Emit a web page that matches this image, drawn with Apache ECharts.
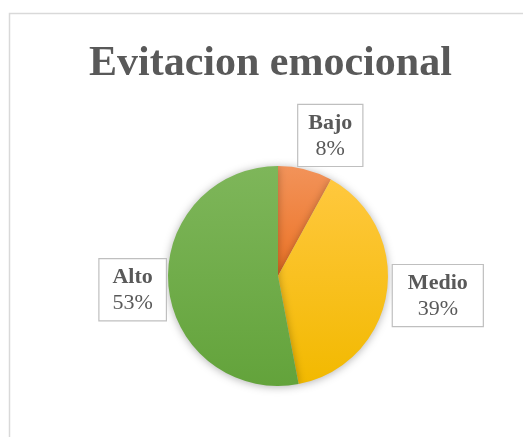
<!DOCTYPE html>
<html>
<head>
<meta charset="utf-8">
<script src="https://cdn.jsdelivr.net/npm/echarts@6/dist/echarts.min.js"></script>
<style>
html,body{margin:0;padding:0;background:#fff;}
#chart{width:523px;height:437px;}
</style>
</head>
<body>
<div id="chart"></div>
<script>
const categories = ['Bajo', 'Medio', 'Alto'];
const values = [8, 39, 53];
const colorsTop = ['#F2935A', '#FFC83E', '#7EB65A'];
const colorsBottom = ['#EC7224', '#F2B900', '#63A33B'];
// label placement: distance from pie centre and angular tweak (degrees)
const labelDist = [150, 161, 146];
const labelAngleShift = [6, -2, 0];
const labelPadX = [10, 15, 13];

const FONT = '"Liberation Serif", "Times New Roman", serif';
const cx = 278, cy = 276, R = 110;

const total = values.reduce((a, b) => a + b, 0);
const midAngles = [];
let acc = 0;
values.forEach(v => { midAngles.push((acc + v / 2) / total * 360); acc += v; });

const chart = echarts.init(document.getElementById('chart'));
chart.setOption({
  backgroundColor: '#fff',
  animation: false,
  graphic: [{
    type: 'rect',
    shape: { x: 9.5, y: 13.5, width: 600, height: 600 },
    style: { fill: 'none', stroke: '#d9d9d9', lineWidth: 1.5 },
    silent: true
  }],
  title: {
    text: 'Evitacion emocional',
    left: 84,
    top: 38,
    textStyle: { fontFamily: FONT, fontWeight: 'bold', fontSize: 42, color: '#595959' }
  },
  series: [{
    type: 'pie',
    center: [cx, cy],
    radius: [0, R],
    startAngle: 90,
    clockwise: true,
    data: categories.map((c, i) => ({
      name: c,
      value: values[i],
      itemStyle: {
        color: new echarts.graphic.LinearGradient(0, 0, 0, 1, [
          { offset: 0, color: colorsTop[i] },
          { offset: 1, color: colorsBottom[i] }
        ])
      },
      label: { padding: [5, labelPadX[i], 4, labelPadX[i]] }
    })),
    itemStyle: { shadowBlur: 8, shadowColor: 'rgba(0,0,0,0.3)', shadowOffsetY: 1 },
    labelLine: { show: false },
    label: {
      show: true,
      position: 'inside',
      overflow: 'none',
      formatter: p => '{b|' + p.name + '}\n{p|' + p.value + '%}',
      backgroundColor: '#fff',
      borderColor: '#bfbfbf',
      borderWidth: 1.2,
      rich: {
        b: { fontFamily: FONT, fontWeight: 'bold', fontSize: 22, color: '#595959', lineHeight: 26, align: 'center' },
        p: { fontFamily: FONT, fontSize: 22, color: '#595959', lineHeight: 26, align: 'center' }
      }
    },
    labelLayout: function (params) {
      const i = params.dataIndex;
      const a = (midAngles[i] + labelAngleShift[i]) * Math.PI / 180;
      return {
        x: cx + labelDist[i] * Math.sin(a),
        y: cy - labelDist[i] * Math.cos(a),
        align: 'center',
        verticalAlign: 'middle'
      };
    }
  }]
});
</script>
</body>
</html>
